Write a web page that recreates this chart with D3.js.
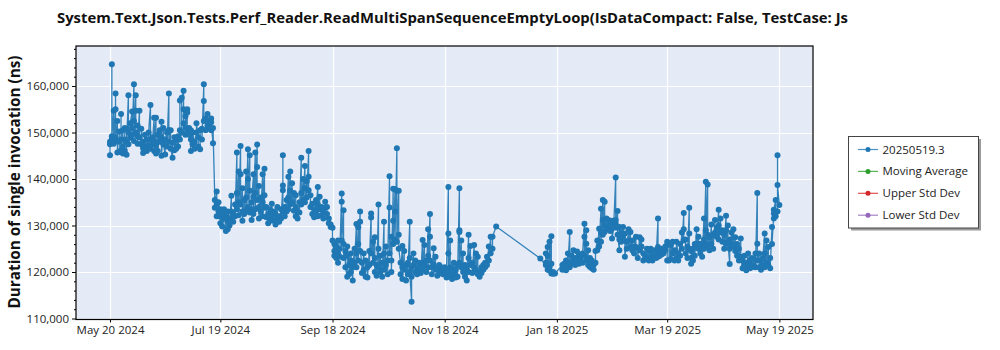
<!DOCTYPE html>
<html><head><meta charset="utf-8">
<script src="https://cdn.jsdelivr.net/npm/d3@7"></script>
<style>
body{margin:0;background:#fff;}
svg{display:block;font-family:"Open Sans","Noto Sans",sans-serif;}
</style>
</head><body>
<svg id="chart" width="1000" height="350"></svg>
<script>
const chartTitle = "System.Text.Json.Tests.Perf_Reader.ReadMultiSpanSequenceEmptyLoop(IsDataCompact: False, TestCase: Js";
const yAxisTitle = "Duration of single invocation (ns)";
const legendNames = ["20250519.3", "Moving Average", "Upper Std Dev", "Lower Std Dev"];
const xTickDates = ["2024-05-20","2024-07-19","2024-09-18","2024-11-18","2025-01-18","2025-03-19","2025-05-19"];
const yTickValues = [110000,120000,130000,140000,150000,160000];

// one entry per run day; each day lists the measured durations (ns) in run order
const runDates = [
"2024-05-20","2024-05-21","2024-05-22","2024-05-23","2024-05-24","2024-05-25","2024-05-26","2024-05-27","2024-05-28","2024-05-29","2024-05-30","2024-05-31",
"2024-06-01","2024-06-02","2024-06-03","2024-06-04","2024-06-05","2024-06-06","2024-06-07","2024-06-08","2024-06-09","2024-06-10","2024-06-11","2024-06-12","2024-06-13","2024-06-14","2024-06-15","2024-06-16","2024-06-17","2024-06-18","2024-06-19","2024-06-20","2024-06-21","2024-06-22","2024-06-23","2024-06-24","2024-06-25","2024-06-26","2024-06-27","2024-06-28","2024-06-29","2024-06-30",
"2024-07-01","2024-07-02","2024-07-03","2024-07-04","2024-07-05","2024-07-06","2024-07-07","2024-07-08","2024-07-09","2024-07-10","2024-07-11","2024-07-12","2024-07-13","2024-07-14","2024-07-15",
"2024-07-16","2024-07-17","2024-07-18","2024-07-19","2024-07-20","2024-07-21","2024-07-22","2024-07-23","2024-07-24","2024-07-25","2024-07-26","2024-07-27","2024-07-28","2024-07-29","2024-07-30","2024-07-31",
"2024-08-01","2024-08-02","2024-08-03","2024-08-04","2024-08-05","2024-08-06","2024-08-07","2024-08-08","2024-08-09","2024-08-10","2024-08-11","2024-08-12","2024-08-13","2024-08-14","2024-08-15","2024-08-16","2024-08-17","2024-08-18","2024-08-19","2024-08-20","2024-08-21","2024-08-22","2024-08-23","2024-08-24","2024-08-25","2024-08-26","2024-08-27","2024-08-28","2024-08-29","2024-08-30","2024-08-31",
"2024-09-01","2024-09-02","2024-09-03","2024-09-04","2024-09-05","2024-09-06","2024-09-07","2024-09-08","2024-09-09","2024-09-10","2024-09-11","2024-09-12","2024-09-13","2024-09-14","2024-09-15","2024-09-16","2024-09-17",
"2024-09-18","2024-09-19","2024-09-20","2024-09-21","2024-09-22","2024-09-23","2024-09-24","2024-09-25","2024-09-26","2024-09-27","2024-09-28","2024-09-29","2024-09-30",
"2024-10-01","2024-10-02","2024-10-03","2024-10-04","2024-10-05","2024-10-06","2024-10-07","2024-10-08","2024-10-09","2024-10-10","2024-10-11","2024-10-12","2024-10-13","2024-10-14","2024-10-15","2024-10-16","2024-10-17","2024-10-18","2024-10-19","2024-10-20","2024-10-21","2024-10-22","2024-10-23","2024-10-24","2024-10-25","2024-10-26","2024-10-27","2024-10-28","2024-10-29","2024-10-30","2024-10-31",
"2024-11-01","2024-11-02","2024-11-03","2024-11-04","2024-11-05","2024-11-06","2024-11-07","2024-11-08","2024-11-09","2024-11-10","2024-11-11","2024-11-12","2024-11-13","2024-11-14","2024-11-15","2024-11-16","2024-11-17","2024-11-18","2024-11-19","2024-11-20","2024-11-21","2024-11-22","2024-11-23","2024-11-24","2024-11-25","2024-11-26","2024-11-27","2024-11-28","2024-11-29","2024-11-30",
"2024-12-01","2024-12-02","2024-12-03","2024-12-04","2024-12-05","2024-12-06","2024-12-07","2024-12-08","2024-12-09","2024-12-10","2024-12-11","2024-12-12","2024-12-13","2024-12-14","2024-12-16",
"2025-01-09","2025-01-12","2025-01-13","2025-01-14","2025-01-15","2025-01-16","2025-01-17",
"2025-01-21","2025-01-22","2025-01-23","2025-01-24","2025-01-25","2025-01-26","2025-01-27","2025-01-28","2025-01-29","2025-01-30","2025-01-31",
"2025-02-01","2025-02-02","2025-02-03","2025-02-04","2025-02-05","2025-02-06","2025-02-07","2025-02-08","2025-02-09","2025-02-10","2025-02-11","2025-02-12","2025-02-13","2025-02-14","2025-02-15","2025-02-16","2025-02-17","2025-02-18","2025-02-19","2025-02-20","2025-02-21","2025-02-22","2025-02-23","2025-02-24","2025-02-25","2025-02-26","2025-02-27","2025-02-28",
"2025-03-01","2025-03-02","2025-03-03","2025-03-04","2025-03-05","2025-03-06","2025-03-07","2025-03-08","2025-03-09","2025-03-10","2025-03-11","2025-03-12","2025-03-13","2025-03-14","2025-03-15","2025-03-16","2025-03-17","2025-03-18","2025-03-19","2025-03-20","2025-03-21","2025-03-22","2025-03-23","2025-03-24","2025-03-25","2025-03-26","2025-03-27","2025-03-28","2025-03-29","2025-03-30","2025-03-31",
"2025-04-01","2025-04-02","2025-04-03","2025-04-04","2025-04-05","2025-04-06","2025-04-07","2025-04-08","2025-04-09","2025-04-10","2025-04-11","2025-04-12","2025-04-13","2025-04-14","2025-04-15","2025-04-16","2025-04-17","2025-04-18","2025-04-19","2025-04-20","2025-04-21","2025-04-22","2025-04-23","2025-04-24","2025-04-25","2025-04-26","2025-04-27","2025-04-28","2025-04-29","2025-04-30",
"2025-05-01","2025-05-02","2025-05-03","2025-05-04","2025-05-05","2025-05-06","2025-05-07","2025-05-08","2025-05-09","2025-05-10","2025-05-11","2025-05-12","2025-05-13","2025-05-14","2025-05-15","2025-05-16","2025-05-17","2025-05-18","2025-05-19"
];

const durations = [
[145100,148000,147500],[148800,164700,149200],[154700,148300,147600],[155000,158400,149000],[152500,145700,148200],[148000,150200,145800],[146200,154000,148500],[150500,145500,147000],[148500,151000,146000],[145200,150800,148000],[158000,150000,147500],[148900,152000],
[154500,151000,149500],[160400,152500,148200],[158000,154700,150000],[149200,151500,147600],[154700,149000],[147500,150800],[145600,148000,146600],[149500,147000],[146000,148500],[147200,150000],[155900,148500,146500],[149000,147500],[153200,148000,146000],[153200,147200,145500],[149500,146000],[150500,148000],[152300,149000,145000],[151000,147500],[145300,148500],[150000,147000],[158400,150500,148000],[150500,146500],[144600,147800],[149000,146200],[148500,146500],[149200,147000],[150500,156900,148500],[150000,157500],[159000,152000,155000],[153500,149500,151000],
[155000,154300,150000],[149500,151000],[146000,148500,150500],[147500,150000],[148000,146500],[150000,152000],[149000,147000],[146400,150500],[150800,148500],[160400,156800,152500],[153000,150500],[154000,151500],[150900,152500,151000],[153000,150500,152200],[147700,151000],
[135500,133800],[137300,134500,132000],[133000,135000],[131900,133500,130500],[132800,129800],[131500,133500],[128800,132200],[129200,131000,133000],[131500,130000],[136400,133000,131200],[132500,130800],[134500,132000],[145700,137000,133500],[141600,135000,132200],[147100,141000,134500],[138000,133000,131000],
[135500,132500],[141600,136000,133200],[146400,140000,134000],[145100,137500,132800],[133500,131200,135000],[141000,136200,132500],[145700,137000,133500],[147400,142600,135500],[138500,134000,131500],[136000,133000],[141000,135000,132000],[142200,136500,133800],[134000,131800],[132500,130500],[133500,131000],[134700,132000],[131000,133000],[132500,130200],[134000,131500],[132000,130800],[133500,131500],[138600,145100,137600,133000],[134000,132000],[135500,133000],[140500,136000,133500],[141600,137500,134500],[139100,135000],[137000,133200],[136500,134000,132000],[133000,131500],[135000,132800],
[144600,137000,134500],[140000,135500],[142800,138000,135000],[139500,136000],[146000,140500,137600],[136500,134000],[134700,132500],[133500,131800],[135500,133000],[138300,134500,132000],[136200,133500],[134000,132200],[133000,131500],[135100,133800],[134000,132500],[131500,130500],[129700,130200],
[129500,126800],[123500,126000,124500],[125500,123000],[126800,122000,124000],[123300,125000],[136900,135100,126800],[133300,126000,123000],[124500,121000],[119000,123500,125500],[121500,119500],[122500,120000,124000],[118200,121000],[125000,122000],
[130300,124000,121000],[129600,126000,122500],[133000,130800,124500],[122000,119800],[124000,120500],[119000,122500],[121000,118800],[124500,121500],[132600,131700,124000],[126500,122000],[127500,123000,120000],[121500,119200],[134500,125000,121000],[123500,120000],[122000,119000],[130800,124000,120500],[125500,121500],[119500,122500],[140600,133900,124000],[127600,122500,120000],[137900,131000,126000],[137800,133000,127000],[146600,137500,126500],[137500,128000,125000],[122000,119500],[125600,121000,118500],[124500,120500],[121500,118200],[122000,119500],[130800,123000,120000],[113600,121000,119000],
[124000,121500],[122500,120000],[121000,119500],[120500,122000],[121000,119800],[126900,122000,120500],[125800,121500],[122500,120000],[129200,123500,121000],[132500,127600,122500],[121000,119500],[125100,121500],[123300,120500],[120800,119200],[121500,119800],[121000,120000],[120500,119500],[120000,121000],[119500,118800,120500],[138300,128300,124000,120000],[126800,121000,119000],[120800,118500],[122000,119500],[120500,118800],[121500,119000],[138000,129000,128600,122000],[126800,121000],[124000,120000],[121500,119000],[120500,118200],
[128000,123000,120000],[125600,121500],[122000,119800],[125800,121000],[124000,120500],[123300,119500],[120000,119000],[121000,119800],[120500,121500],[121000,122000],[123300,121500],[125500,122500],[127600,124000],[125000,127600],[129800],
[122900],[121500,124000,122000],[125400,120500,123500],[121000,126500,120400],[127700,121800,119700],[120000,119600],[119700],
[121500,120500],[120800,121800],[122500,120400],[124000,121500],[128600,122000,121000],[123500,121800],[124700,122500],[123000,121500],[124400,122000],[123500,121800],[123300,122500],
[122000,124000],[130400,127600,123500],[129000,126100,122500],[124700,121500],[123000,121100],[122500,120800],[121500,120500],[122000,124500],[126800,124700],[129300,125500],[133600,128600,126500],[135500,131200,128000],[135100,130000,128600],[131500,129200],[131200,129500],[130000,128800],[131000,127200],[129500,130800],[140300,131200,130400],[133100,129500,128000],[124700,129700,127000],[128500,126500],[129700,127500],[128300,123300],[126500,125000],[129200,126800],[128600,125500],[126800,124700],
[124000,125500],[127600,125400],[125000,123000],[127500,124700],[127000,125500],[124000,122500],[123500,122800],[125000,123000],[122500,124500],[125000,123300],[124000,122500],[123300,124700],[124000,123000],[131500,125400,123300],[124500,123500],[125000,123800],[124000,124500],[124700,125500],[126500,122500,125800],[126100,122500],[125800,122800],[126500,124000],[124700,122500],[123000,126500],[124000,122500],[126000,123500],[128500,125000],[132700,129200,126800],[127000,124000],[125500,123000],[133800,128300,125000],
[124500,121800,123000],[125000,122500],[126000,123500],[129200,126000],[127600,125000],[126100,124000],[125000,123300],[131500,127000,125000],[139400,129000,126000],[138800,128000,125500],[127500,124700],[130200,126000],[128000,125000],[131200,128500],[129500,127600],[133400,130000,127000],[131500,128500],[129000,126500],[128000,125000],[132100,129000,126000],[130000,126500],[121700,127000,125000],[128500,126000],[129200,125500],[127500,124500],[126000,123500],[125000,122500],[127200,123300],[120800,122500],[123500,121500],
[122000,120400],[124000,121500],[122500,120800],[123000,121000],[121500,122800],[124000,121000],[137000,126100,122500],[124000,121000],[122500,120500],[121500,123000],[128300,124000,121000],[126800,122000],[125400,121500],[123000,120800],[129700,126000],[132600,131500,133400],[135500,132000],[133000,145100,138700],[134400]
];

const seriesColor = "#1f77b4";
const legendColors = ["#1f77b4", "#2ca02c", "#d62728", "#9467bd"];

const parseDay = d3.timeParse("%Y-%m-%d");
const points = [];
runDates.forEach((ds, i) => {
  const dt = parseDay(ds);
  durations[i].forEach(v => points.push({date: dt, value: v}));
});

const svg = d3.select("#chart");
const L = 76, R = 813, T = 46, B = 319.5;

const x = d3.scaleTime()
  .domain([new Date(2024, 4, 1, 12), new Date(2025, 5, 6, 7)])
  .range([L, R]);
const y = d3.scaleLinear().domain([109785, 168610]).range([B, T]);

// plot background
svg.append("rect").attr("x", L).attr("y", T).attr("width", R - L).attr("height", B - T)
  .attr("fill", "#e5ebf6");

// gridlines
const xTicks = xTickDates.map(parseDay);
svg.append("g").selectAll("line").data(xTicks).join("line")
  .attr("x1", d => Math.round(x(d)) + 0.5).attr("x2", d => Math.round(x(d)) + 0.5)
  .attr("y1", T).attr("y2", B).attr("stroke", "#fff").attr("stroke-width", 1.2);
svg.append("g").selectAll("line").data(yTickValues).join("line")
  .attr("y1", d => Math.round(y(d)) + 0.5).attr("y2", d => Math.round(y(d)) + 0.5)
  .attr("x1", L).attr("x2", R).attr("stroke", "#fff").attr("stroke-width", 1.2);

// data
svg.append("clipPath").attr("id", "clip").append("rect")
  .attr("x", L).attr("y", T).attr("width", R - L).attr("height", B - T);
const plot = svg.append("g").attr("clip-path", "url(#clip)");
const line = d3.line().x(d => x(d.date)).y(d => y(d.value));
plot.append("path").datum(points).attr("d", line)
  .attr("fill", "none").attr("stroke", seriesColor).attr("stroke-width", 1.3).attr("stroke-opacity", 0.9);
plot.append("g").selectAll("circle").data(points).join("circle")
  .attr("cx", d => x(d.date)).attr("cy", d => y(d.value)).attr("r", 3)
  .attr("fill", seriesColor);

// border
svg.append("rect").attr("x", L).attr("y", T).attr("width", R - L).attr("height", B - T)
  .attr("fill", "none").attr("stroke", "#000").attr("stroke-width", 1.2);

// y axis
const yAxis = svg.append("g").attr("transform", `translate(${L},0)`)
  .call(d3.axisLeft(y).tickValues(yTickValues).tickFormat(d3.format(",")).tickSize(4).tickPadding(3));
yAxis.select(".domain").remove();
yAxis.selectAll("text").attr("font-size", 11.5).attr("fill", "#222").attr("font-family", "Open Sans");
const minorY = d3.range(110000, 168001, 2000).filter(v => v % 10000 !== 0);
svg.append("g").attr("transform", `translate(${L},0)`)
  .call(d3.axisLeft(y).tickValues(minorY).tickFormat("").tickSize(2))
  .select(".domain").remove();

// x axis
const xAxis = svg.append("g").attr("transform", `translate(0,${B})`)
  .call(d3.axisBottom(x).tickValues(xTicks).tickFormat(d3.timeFormat("%b %-d %Y")).tickSize(3).tickPadding(3));
xAxis.select(".domain").remove();
xAxis.selectAll("text").attr("font-size", 11.5).attr("fill", "#222").attr("font-family", "Open Sans");

// title
svg.append("text").attr("x", 57).attr("y", 23).text(chartTitle)
  .attr("font-size", 15).attr("font-weight", "bold").attr("fill", "#111")
  .attr("textLength", 791).attr("lengthAdjust", "spacingAndGlyphs");

// y title
svg.append("text").attr("transform", "translate(20,182) rotate(-90)")
  .attr("text-anchor", "middle").text(yAxisTitle)
  .attr("font-size", 16).attr("font-weight", "bold").attr("fill", "#111")
  .attr("textLength", 253).attr("lengthAdjust", "spacingAndGlyphs");

// legend
const lg = svg.append("g");
lg.append("rect").attr("x", 851).attr("y", 139).attr("width", 130).attr("height", 91.5).attr("fill", "#9a9a9a");
lg.append("rect").attr("x", 848.5).attr("y", 136.5).attr("width", 130).attr("height", 91.5)
  .attr("fill", "#fff").attr("stroke", "#444").attr("stroke-width", 1);
const items = lg.selectAll("g.item").data(legendNames).join("g")
  .attr("transform", (d, i) => `translate(0,${149.5 + i * 21.9})`);
items.append("line").attr("x1", 858).attr("x2", 878).attr("y1", 0).attr("y2", 0)
  .attr("stroke", (d, i) => legendColors[i]).attr("stroke-width", 1.2).attr("stroke-opacity", 0.8);
items.append("circle").attr("cx", 868).attr("cy", 0).attr("r", 2.5).attr("fill", (d, i) => legendColors[i]);
items.append("text").attr("x", 882.5).attr("y", 4).text(d => d)
  .attr("font-size", 11.5).attr("fill", "#222");
</script>
</body></html>
